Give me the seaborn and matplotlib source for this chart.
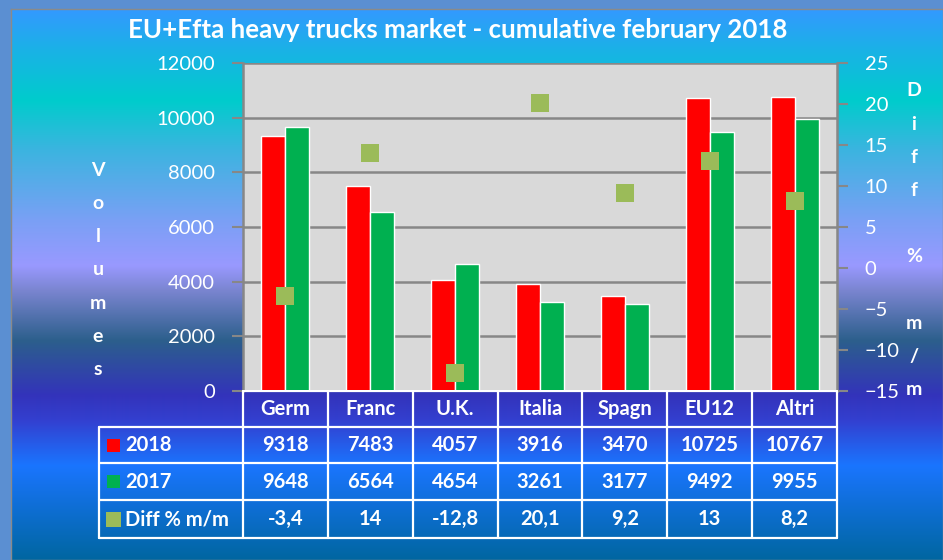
import numpy as np
import pandas as pd
import matplotlib.pyplot as plt
import matplotlib.colors as mcolors
from matplotlib.patches import Rectangle
import seaborn as sns

# =========================
# DATA
# =========================
categories = ["Germ", "Franc", "U.K.", "Italia", "Spagn", "EU12", "Altri"]
vol_2018 = [9318, 7483, 4057, 3916, 3470, 10725, 10767]
vol_2017 = [9648, 6564, 4654, 3261, 3177, 9492, 9955]
diff_pct = [-3.4, 14, -12.8, 20.1, 9.2, 13, 8.2]
series = ["2018", "2017"]
diff_name = "Diff % m/m"

RED = "#ff0000"
GREEN = "#00b050"
OLIVE = "#9bbb59"
GRID = "#878787"

sns.set_style("white")
plt.rcParams["font.family"] = ["Lato", "DejaVu Sans"]

W, H = 943, 560
fig = plt.figure(figsize=(W / 100, H / 100), dpi=100, facecolor="#5b8fd2")


def px(x0, y0, x1, y1):
    # pixel box (top-left origin) -> figure fraction rect
    return [x0 / W, 1 - y1 / H, (x1 - x0) / W, (y1 - y0) / H]


# =========================
# BACKGROUND GRADIENT
# =========================
stops = [(9, "#3399ff"), (50, "#1ab2e6"), (100, "#00cccc"), (150, "#3cb4e0"),
         (220, "#7aa0f5"), (265, "#9999ff"), (290, "#7a85d0"), (340, "#2c5f8c"),
         (395, "#3333bb"), (420, "#3340d0"), (465, "#1a75ff"), (560, "#0066a0")]
sy = np.array([s[0] for s in stops])
sc = np.array([mcolors.to_rgb(s[1]) for s in stops])
rows = np.arange(9, H)
grad = np.stack([np.interp(rows, sy, sc[:, k]) for k in range(3)], axis=1)
grad = np.repeat(grad[:, None, :], 2, axis=1)

bg = fig.add_axes(px(11, 9, W, H))
bg.imshow(grad, aspect="auto", interpolation="bilinear")
bg.set_xticks([])
bg.set_yticks([])
for s in bg.spines.values():
    s.set_color("#8a8a8a")
    s.set_linewidth(1)

# =========================
# BARS
# =========================
ax = fig.add_axes(px(243, 63, 837, 391))
ax.set_facecolor("#d9d9d9")

df = pd.DataFrame({
    "country": categories * 2,
    "year": [series[0]] * len(categories) + [series[1]] * len(categories),
    "volume": vol_2018 + vol_2017,
})
sns.barplot(data=df, x="country", y="volume", hue="year", hue_order=series,
            palette=[RED, GREEN], width=0.565, saturation=1, ax=ax, legend=False)

ax.set_xlim(-0.5, len(categories) - 0.5)
ax.set_ylim(0, 12000)
ax.set_yticks(range(0, 12001, 2000))
ax.set_xlabel("")
ax.set_ylabel("")
ax.tick_params(axis="x", bottom=False, labelbottom=False)
ax.tick_params(axis="y", direction="out", length=8, width=1.5, color=GRID,
               labelcolor="white", labelsize=14.5, pad=12)
ax.yaxis.grid(True, color=GRID, linewidth=1.8)
ax.set_axisbelow(True)
for side in ["top", "bottom"]:
    ax.spines[side].set_visible(False)
for side in ["left", "right"]:
    ax.spines[side].set_color(GRID)
    ax.spines[side].set_linewidth(1.8)

# =========================
# DIFF % MARKERS
# =========================
ax2 = ax.twinx()
sns.scatterplot(x=np.arange(len(categories)), y=diff_pct, marker="s", s=150,
                color=OLIVE, linewidth=0, ax=ax2, zorder=5)
ax2.set_xlim(-0.5, len(categories) - 0.5)
ax2.set_ylim(-15, 25)
ax2.set_yticks(range(-15, 26, 5))
ax2.tick_params(axis="y", direction="out", length=8, width=1.5, color=GRID,
                labelcolor="white", labelsize=14.5, pad=12)
for s in ax2.spines.values():
    s.set_visible(False)

# =========================
# TITLE AND AXIS LABELS
# =========================
fig.text(458 / W, 1 - 30 / H, "EU+Efta heavy trucks market - cumulative february 2018",
         ha="center", va="center", color="white", fontsize=18.6, fontweight="bold")

for i, ch in enumerate("Volumes"):
    fig.text(98 / W, 1 - (170 + i * 33.3) / H, ch, ha="center", va="center",
             color="white", fontsize=14, fontweight="bold")

for i, ch in enumerate(["D", "i", "f", "f", "", "%", "", "m", "/", "m"]):
    fig.text(914 / W, 1 - (91 + i * 33.2) / H, ch, ha="center", va="center",
             color="white", fontsize=14, fontweight="bold")

# =========================
# DATA TABLE
# =========================
tab = fig.add_axes(px(97, 390, 839, 540))
tab.set_xlim(97, 839)
tab.set_ylim(540, 390)
tab.axis("off")

col_edges = np.linspace(243, 837, len(categories) + 1)
row_edges = [391, 427, 463, 500, 538]
lw = 1.6

tab.plot([243, 837], [row_edges[0]] * 2, color="white", lw=lw)
for y in row_edges[1:]:
    tab.plot([99, 837], [y, y], color="white", lw=lw)
tab.plot([99, 99], [row_edges[1], row_edges[-1]], color="white", lw=lw)
for x in col_edges:
    tab.plot([x, x], [row_edges[0], row_edges[-1]], color="white", lw=lw)

centers = (col_edges[:-1] + col_edges[1:]) / 2
row_mid = [(row_edges[i] + row_edges[i + 1]) / 2 for i in range(4)]

tkw = dict(ha="center", va="center", color="white", fontsize=14.5, fontweight="bold")
diff_txt = [f"{v:g}".replace(".", ",") for v in diff_pct]
for j, x in enumerate(centers):
    tab.text(x, row_mid[0], categories[j], **tkw)
    tab.text(x, row_mid[1], str(vol_2018[j]), **tkw)
    tab.text(x, row_mid[2], str(vol_2017[j]), **tkw)
    tab.text(x, row_mid[3], diff_txt[j], **tkw)

labels = [series[0], series[1], diff_name]
colors = [RED, GREEN, OLIVE]
sizes = [13, 13, 15]
for i, (lab, c, sz) in enumerate(zip(labels, colors, sizes)):
    ym = row_mid[i + 1]
    x0 = 113.5 - sz / 2
    tab.add_patch(Rectangle((x0, ym - sz / 2), sz, sz, color=c, lw=0))
    tab.text(125, ym, lab, ha="left", va="center", color="white",
             fontsize=14.5, fontweight="bold")

fig.savefig("out.png", dpi=100)
